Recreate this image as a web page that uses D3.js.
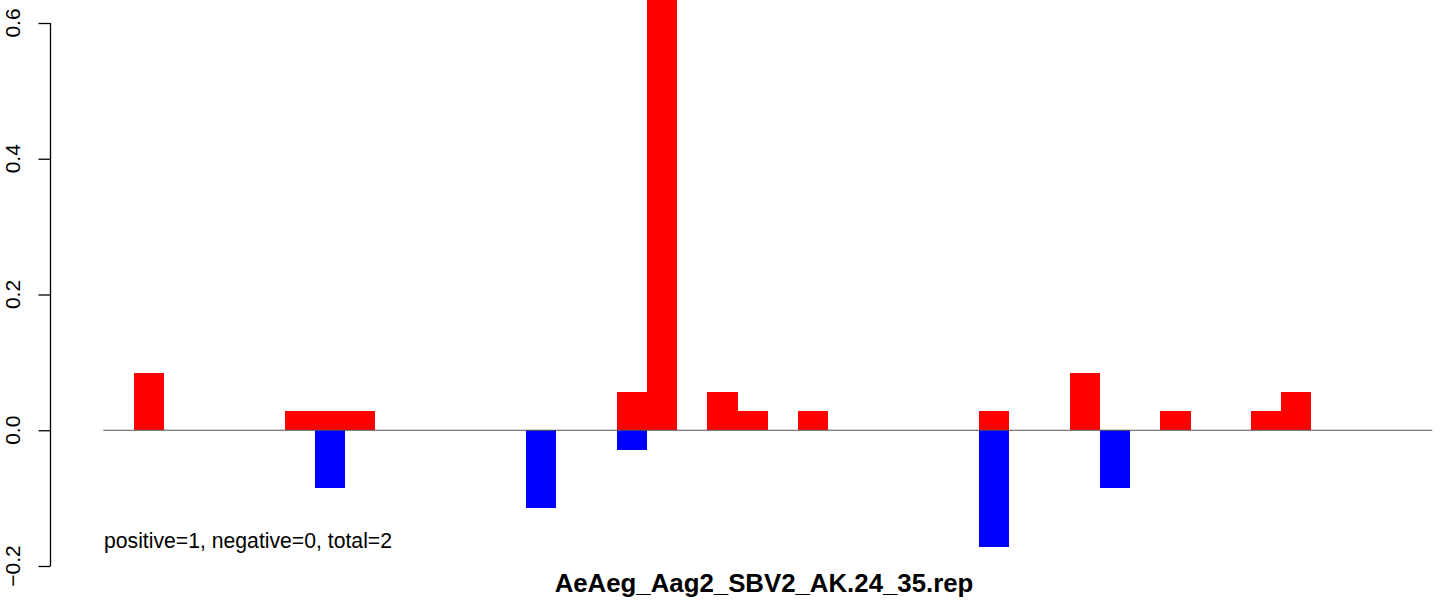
<!DOCTYPE html>
<html><head><meta charset="utf-8">
<script src="https://cdn.jsdelivr.net/npm/d3@7"></script>
<style>body{margin:0;background:#fff}svg{display:block}text{font-family:"Liberation Sans",Arial,sans-serif}</style>
</head><body>
<script>
const slots = d3.range(44);
const posValues = [0,0.0845,0,0,0,0,0.0284,0.0284,0.0284,0,0,0,0,0,0,0,0,0.0568,0.8,0,0.0568,0.0284,0,0.0284,0,0,0,0,0,0.0284,0,0,0.0845,0,0,0.0284,0,0,0.0284,0.0568,0,0,0,0];
const negValues = [0,0,0,0,0,0,0,-0.0855,0,0,0,0,0,0,-0.1143,0,0,-0.0286,0,0,0,0,0,0,0,0,0,0,0,-0.1714,0,0,0,-0.0855,0,0,0,0,0,0,0,0,0,0];
const yTicks = [-0.2,0.0,0.2,0.4,0.6];
const titleText = "AeAeg_Aag2_SBV2_AK.24_35.rep";
const noteText = "positive=1, negative=0, total=2";

const W=1444,H=603;
const svg=d3.select("body").append("svg").attr("width",W).attr("height",H);
const x=d3.scaleBand().domain(slots).range([103.3,1432.3]).padding(0);
const y=d3.scaleLinear().domain([-0.2,0.6]).range([566,23]);

svg.append("g").selectAll("rect.pos").data(slots.filter(i=>posValues[i]>0)).join("rect")
  .attr("x",i=>x(i)).attr("width",x.bandwidth())
  .attr("y",i=>Math.max(0,y(posValues[i]))).attr("height",i=>y(0)-Math.max(0,y(posValues[i])))
  .attr("fill","#ff0000").attr("shape-rendering","crispEdges");
svg.append("g").selectAll("rect.neg").data(slots.filter(i=>negValues[i]<0)).join("rect")
  .attr("x",i=>x(i)).attr("width",x.bandwidth())
  .attr("y",y(0)).attr("height",i=>y(negValues[i])-y(0))
  .attr("fill","#0000ff").attr("shape-rendering","crispEdges");

svg.append("line").attr("x1",103.3).attr("x2",1432.3).attr("y1",y(0)).attr("y2",y(0))
  .attr("stroke","#555").attr("stroke-width",1.2);

const ax=svg.append("g").attr("transform","translate(50.5,0)")
  .call(d3.axisLeft(y).tickValues(yTicks).tickSize(12).tickFormat(d3.format(".1f")));
ax.select(".domain").attr("d",`M0,${y(0.6)}V${y(-0.2)}`).attr("stroke","#000").attr("stroke-width",1.3);
ax.selectAll(".tick line").attr("stroke","#000").attr("stroke-width",1.3);
ax.selectAll(".tick text").remove();
svg.append("g").selectAll("text").data(yTicks).join("text")
  .attr("transform",d=>`translate(19.5,${y(d)}) rotate(-90)`)
  .attr("text-anchor","middle").attr("font-size",21).attr("fill","#000")
  .text(d=>d3.format(".1f")(d).replace("-","\u2212"));

svg.append("text").attr("x",104).attr("y",548).attr("font-size",21.2).attr("fill","#000").text(noteText);
svg.append("text").attr("x",764).attr("y",591.5).attr("text-anchor","middle").attr("font-size",25.8)
  .attr("font-weight","bold").attr("fill","#000").text(titleText);
</script>
</body></html>
